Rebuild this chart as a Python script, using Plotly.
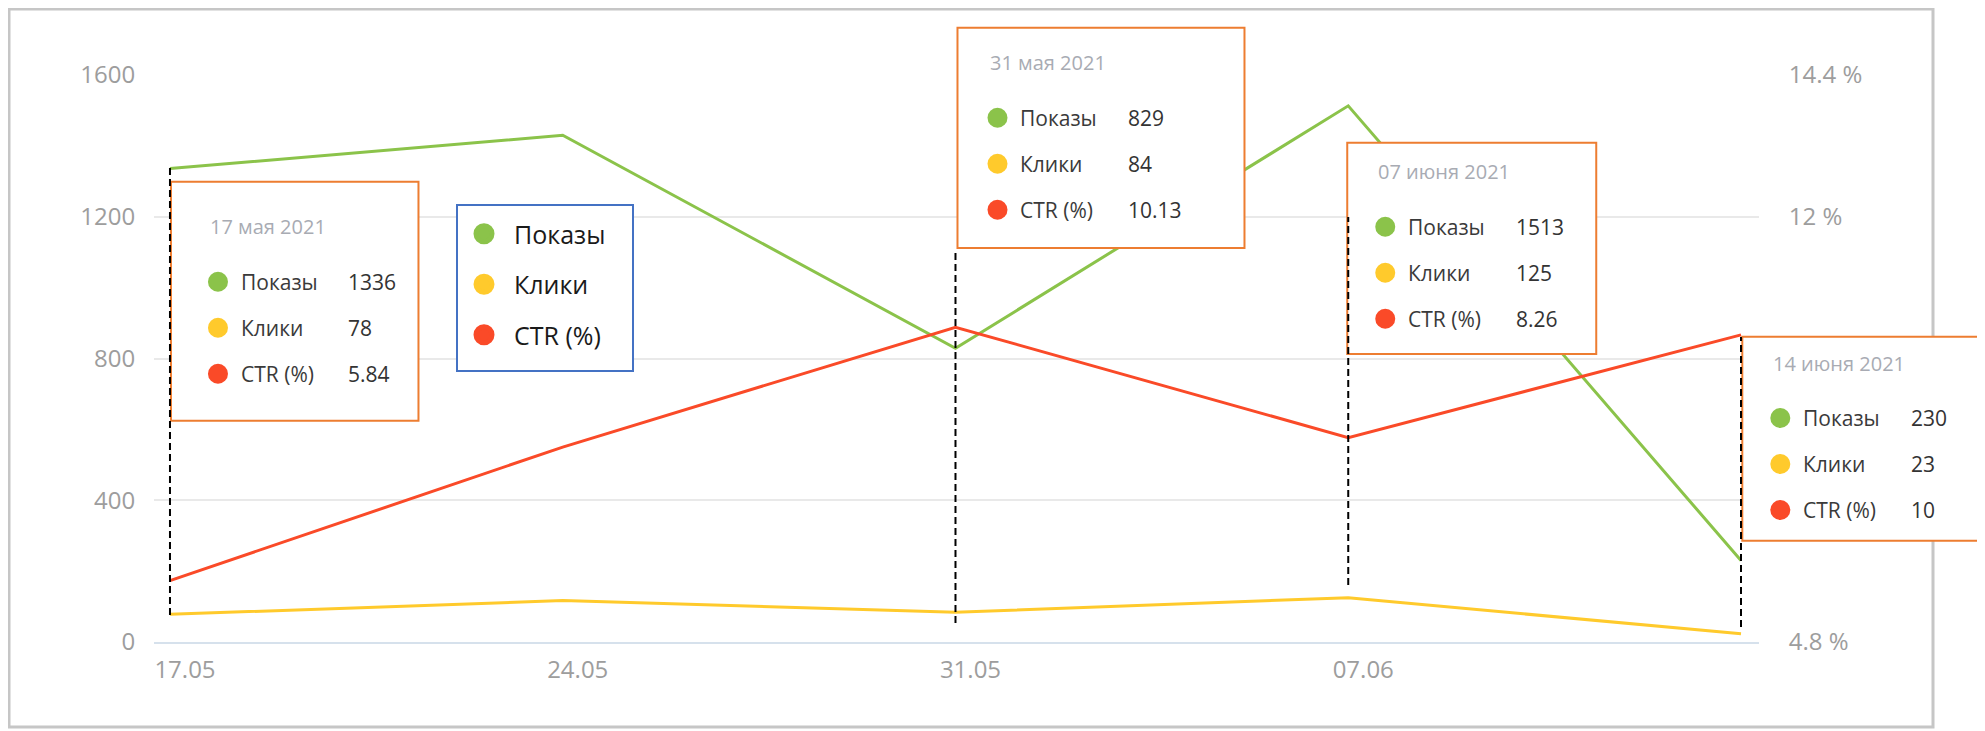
import pandas as pd
import plotly.graph_objects as go

# ---------------- data ----------------
dates = ["2021-05-17", "2021-05-24", "2021-05-31", "2021-06-07", "2021-06-14"]
tick_dates = ["2021-05-17", "2021-05-24", "2021-05-31", "2021-06-07"]
series_names = ["Показы", "Клики", "CTR (%)"]
shows = [1336, 1430, 829, 1513, 230]
clicks = [78, 117, 84, 125, 23]
ctr = [5.84, 8.1, 10.13, 8.26, 10.0]
tooltip_index = [0, 2, 3, 4]
tooltip_titles = ["17 мая 2021", "31 мая 2021", "07 июня 2021", "14 июня 2021"]
left_ticks = [0, 400, 800, 1200, 1600]
right_ticks = [4.8, 12, 14.4]          # 7.2 % and 9.6 % are hidden by a tooltip
right_ticktext = [f"{v:g} %" for v in right_ticks]

# ---------------- style / geometry ----------------
colors = ["#8bc34a", "#ffca2c", "#fa4a28"]
OFF = 8                      # default body margin of the html page
W, H = 1985 - OFF, 731 - OFF  # figure size so it fits the window
PL, PR, PT, PB = 154, 1759, 75, 642   # plot area in page pixels
M_L, M_R, M_T, M_B = PL - OFF, 1985 - PR, PT - OFF, 731 - PB
PLOT_W = PR - PL
PLOT_H = PB - PT
X_RANGE = ["2021-05-16 17:10", "2021-06-14 07:42"]
FONT = "Open Sans"
TICK_COLOR = "#9d9d9d"

_t0 = pd.Timestamp(X_RANGE[0])
_t1 = pd.Timestamp(X_RANGE[1])


def yp(py):
    """page pixel y -> paper y"""
    return (PB - py) / PLOT_H


def xp(px):
    """page pixel x -> paper x"""
    return (px - PL) / PLOT_W


def xd(date, shift_px=0.0):
    """date on the x axis (+ pixel shift) -> paper x"""
    frac = (pd.Timestamp(date) - _t0) / (_t1 - _t0)
    return frac + shift_px / PLOT_W


fig = go.Figure()

# main lines
fig.add_trace(go.Scatter(x=dates, y=shows, name=series_names[0], mode="lines",
                         line=dict(color=colors[0], width=3), showlegend=False))
fig.add_trace(go.Scatter(x=dates, y=clicks, name=series_names[1], mode="lines",
                         line=dict(color=colors[1], width=3), showlegend=False))
fig.add_trace(go.Scatter(x=dates, y=ctr, name=series_names[2], mode="lines", yaxis="y2",
                         line=dict(color=colors[2], width=3), showlegend=False))

# legend entries (circle symbols)
for i, nm in enumerate(series_names):
    fig.add_trace(go.Scatter(x=[None], y=[None], name=nm, mode="markers",
                             legendgroup=f"g{i}",
                             marker=dict(symbol="circle", size=16, color=colors[i],
                                         line=dict(color=colors[i], width=5))))

shapes = []
annotations = []

# outer panel frame
shapes.append(dict(type="rect", xref="paper", yref="paper", layer="below",
                   x0=xp(9), x1=xp(1933), y0=yp(727), y1=yp(9),
                   line=dict(color="#c6c6c6", width=3), fillcolor="rgba(0,0,0,0)"))

# legend box
shapes.append(dict(type="rect", xref="paper", yref="paper", layer="above",
                   x0=xp(457), x1=xp(633), y0=yp(371), y1=yp(205),
                   line=dict(color="#4472c4", width=2), fillcolor="white"))

# tooltip layout: box left offset from point, width, top, bottom, inner pad, title dy
tip_layout = [
    dict(dx=1, w=247.5, top=181.7, bottom=420.7, pad=9.5, tdy=45),
    dict(dx=2, w=287, top=27.7, bottom=248, pad=2.5, tdy=35),
    dict(dx=-1, w=249, top=142.7, bottom=354, pad=0.5, tdy=29),
    dict(dx=1.3, w=260, top=336.7, bottom=540.7, pad=0.5, tdy=26.3),
]
row_dy = [55, 101, 147]

for k, idx in enumerate(tooltip_index):
    L = tip_layout[k]
    d = dates[idx]
    shapes.append(dict(type="rect", xref="paper", yref="paper", layer="above",
                       x0=xd(d, L["dx"]), x1=xd(d, L["dx"] + L["w"]),
                       y0=yp(L["bottom"]), y1=yp(L["top"]),
                       line=dict(color="#ed7d31", width=2), fillcolor="white"))
    base = L["dx"] + L["pad"]
    ty = L["top"] + L["tdy"]
    annotations.append(dict(x=xd(d, base + 28), xref="paper", xanchor="left",
                            y=yp(ty), yref="paper", yanchor="middle", showarrow=False,
                            text=tooltip_titles[k],
                            font=dict(family=FONT, size=20, color="#a8abb3")))
    vals = [f"{shows[idx]}", f"{clicks[idx]}", f"{ctr[idx]:g}"]
    for r in range(3):
        cy = ty + row_dy[r]
        shapes.append(dict(type="circle", xref="paper", yref="paper", layer="above",
                           xsizemode="pixel", ysizemode="pixel",
                           xanchor=xd(d, base + 37.5), x0=-10, x1=10,
                           yanchor=yp(cy), y0=-10, y1=10,
                           fillcolor=colors[r], line=dict(width=0)))
        annotations.append(dict(x=xd(d, base + 58.5), xref="paper", xanchor="left",
                                y=yp(cy), yref="paper", yanchor="middle", showarrow=False,
                                text=series_names[r],
                                font=dict(family=FONT, size=21, color="#3a3a3a")))
        annotations.append(dict(x=xd(d, base + 166), xref="paper", xanchor="left",
                                y=yp(cy), yref="paper", yanchor="middle", showarrow=False,
                                text=vals[r],
                                font=dict(family=FONT, size=21, color="#333333")))

# dashed guide lines (page-pixel spans bottom/top)
guide_spans = [(615, 165), (623, 253), (585, 217), (627, 337)]
for k, idx in enumerate(tooltip_index):
    b, t = guide_spans[k]
    shapes.append(dict(type="line", xref="x", yref="paper", layer="above",
                       x0=dates[idx], x1=dates[idx], y0=yp(b), y1=yp(t),
                       line=dict(color="black", width=2, dash="7px,4px")))

fig.update_layout(
    width=W, height=H,
    margin=dict(l=M_L, r=M_R, t=M_T, b=M_B, pad=0),
    paper_bgcolor="white", plot_bgcolor="white",
    font=dict(family=FONT),
    showlegend=True,
    legend=dict(x=xp(454), xanchor="left", y=yp(211), yanchor="top",
                bgcolor="rgba(0,0,0,0)", borderwidth=0,
                font=dict(family=FONT, size=25, color="#1a1a1a"),
                itemwidth=50, traceorder="grouped", tracegroupgap=15),
    xaxis=dict(type="date", range=X_RANGE,
               tickvals=tick_dates, tickformat="%d.%m", ticklabelshift=15,
               ticks="outside", ticklen=5, tickcolor="rgba(0,0,0,0)",
               tickfont=dict(family=FONT, size=24, color=TICK_COLOR),
               showgrid=False, showline=True, linecolor="#d6e1ec", linewidth=2,
               zeroline=False),
    yaxis=dict(range=[0, 1600], tickvals=left_ticks,
               ticks="outside", ticklen=13, tickcolor="rgba(0,0,0,0)",
               tickfont=dict(family=FONT, size=24, color=TICK_COLOR),
               showgrid=True, gridcolor="#e9e9e9", gridwidth=1.5, zeroline=False),
    yaxis2=dict(range=[4.8, 14.4], tickvals=right_ticks, ticktext=right_ticktext,
                overlaying="y", side="right", anchor="x",
                ticks="outside", ticklen=24, tickcolor="rgba(0,0,0,0)",
                tickfont=dict(family=FONT, size=24, color=TICK_COLOR),
                showgrid=False, zeroline=False),
    shapes=shapes,
    annotations=annotations,
)

fig.write_html("out.html")
